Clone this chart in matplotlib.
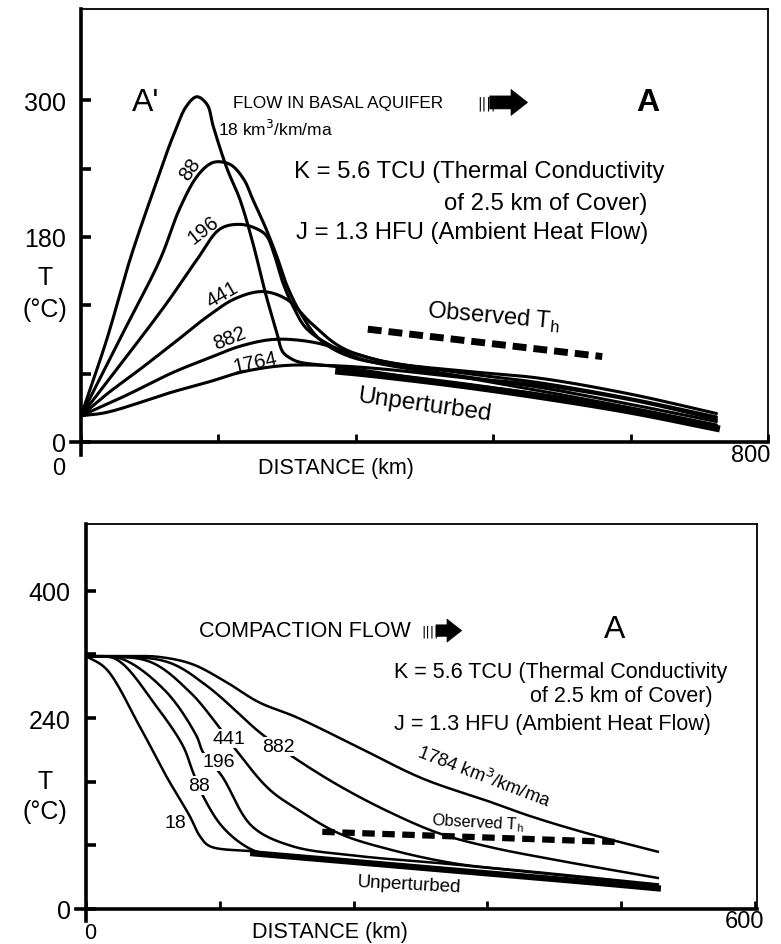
import numpy as np
import matplotlib
matplotlib.use("Agg")
import matplotlib.pyplot as plt

plt.rcParams["font.family"] = ["Liberation Sans", "DejaVu Sans"]

# ---- top panel: flow in basal aquifer (distance km, T degC)
top_flows = ["18", "88", "196", "441", "882", "1764"]
top_x = {
    "18":   [0, 30, 57, 85, 107, 123, 135, 147, 154, 170, 185, 200, 215, 228, 235, 245, 255, 300, 400, 534, 640, 740],
    "88":   [0, 45, 92, 115, 135, 150, 160, 175, 190, 200, 215, 228, 240, 255, 278, 313, 400, 534, 640, 740],
    "196":  [0, 50, 100, 135, 162, 185, 205, 216, 224, 235, 247, 262, 290, 330, 450, 534, 640, 740],
    "441":  [0, 30, 69, 110, 147, 180, 212, 240, 267, 301, 340, 450, 534, 640, 740],
    "882":  [0, 50, 107, 150, 185, 224, 267, 313, 356, 450, 534, 640, 740],
    "1764": [0, 30, 107, 150, 185, 235, 293, 352, 450, 534, 640, 740],
}
top_T = {
    "18":   [23, 90, 160, 222, 268, 295, 303, 296, 277, 240, 213, 175, 130, 96, 79, 73, 70, 66, 55, 42, 28, 13],
    "88":   [23, 90, 160, 205, 233, 244, 246, 243, 230, 213, 188, 163, 137, 114, 90, 75, 63, 45, 30, 15],
    "196":  [23, 72, 122, 160, 187, 191, 187, 181, 167, 140, 119, 100, 85, 72, 57, 48, 33, 18],
    "441":  [23, 42, 64, 88, 110, 126, 132, 125, 105, 84, 73, 60, 52, 38, 22],
    "882":  [23, 40, 61, 74, 84, 90, 88, 79, 70, 62, 56, 42, 25],
    "1764": [23, 26, 44, 53, 61, 67, 67, 64, 56, 50, 37, 20],
}
top_unpert_x = [300, 328, 430, 534, 640, 740]
top_unpert_T = [62, 60, 51, 40, 27, 12]
top_obs_x = [334, 607]
top_obs_T = [99, 75]

# ---- bottom panel: compaction flow
bot_flows = ["18", "88", "196", "441", "882", "1784"]
bot_x = {
    "18":   [0, 18, 48, 72, 93, 102, 111, 153, 189, 260, 350, 450, 513],
    "88":   [0, 27, 63, 87, 96, 105, 122, 143, 161, 250, 350, 450, 513],
    "196":  [0, 33, 72, 99, 105, 122, 149, 185, 242, 330, 450, 513],
    "441":  [0, 57, 93, 116, 134, 164, 189, 227, 272, 332, 400, 513],
    "882":  [0, 72, 108, 155, 173, 188, 227, 272, 317, 362, 420, 513],
    "1784": [0, 40, 65, 95, 125, 155, 189, 242, 302, 362, 398, 450, 513],
}
bot_T = {
    "18":   [318, 302, 230, 167, 117, 92, 79, 72, 64, 56, 46, 34, 26],
    "88":   [318, 314, 255, 205, 172, 142, 104, 79, 69, 58, 47, 35, 27],
    "196":  [318, 314, 273, 218, 197, 167, 104, 79, 67, 56, 39, 30],
    "441":  [318, 311, 273, 235, 201, 151, 126, 95, 75, 57, 47, 31],
    "882":  [318, 311, 281, 223, 204, 189, 155, 122, 95, 78, 62, 39],
    "1784": [318, 318, 317, 308, 286, 260, 241, 205, 164, 135, 117, 95, 72],
}
bot_unpert_x = [150, 250, 350, 450, 513]
bot_unpert_T = [70, 58, 46, 34, 26]
bot_obs_x = [212, 481]
bot_obs_T = [97, 84]

fig = plt.figure(figsize=(7.81, 9.45), dpi=100)
W, H = 781, 945


def smooth(x, y, sx, sy, n=16):
    # centripetal Catmull-Rom through the read points (drawing only)
    p = np.column_stack([np.asarray(x, float) * sx, np.asarray(y, float) * sy])
    p = np.vstack([2 * p[0] - p[1], p, 2 * p[-1] - p[-2]])
    out = [p[1]]
    for i in range(1, len(p) - 2):
        P0, P1, P2, P3 = p[i - 1], p[i], p[i + 1], p[i + 2]
        t0 = 0.0
        t1 = t0 + max(np.linalg.norm(P1 - P0), 1e-6) ** 0.5
        t2 = t1 + max(np.linalg.norm(P2 - P1), 1e-6) ** 0.5
        t3 = t2 + max(np.linalg.norm(P3 - P2), 1e-6) ** 0.5
        t = np.linspace(t1, t2, n)[1:, None]
        A1 = (t1 - t) / (t1 - t0) * P0 + (t - t0) / (t1 - t0) * P1
        A2 = (t2 - t) / (t2 - t1) * P1 + (t - t1) / (t2 - t1) * P2
        A3 = (t3 - t) / (t3 - t2) * P2 + (t - t2) / (t3 - t2) * P3
        B1 = (t2 - t) / (t2 - t0) * A1 + (t - t0) / (t2 - t0) * A2
        B2 = (t3 - t) / (t3 - t1) * A2 + (t - t1) / (t3 - t1) * A3
        C = (t2 - t) / (t2 - t1) * B1 + (t - t1) / (t2 - t1) * B2
        out.extend(C)
    out = np.array(out)
    return out[:, 0] / sx, out[:, 1] / sy


def frame(ax, xmax, ymax, yticks, ylabels, xticks):
    ax.set_xlim(0, xmax)
    ax.set_ylim(0, ymax)
    for s in ["left", "bottom"]:
        ax.spines[s].set_linewidth(2.6)
    for s in ["top", "right"]:
        ax.spines[s].set_linewidth(1.3)
    ax.set_yticks(yticks)
    ax.set_yticklabels(ylabels, fontsize=18)
    ax.set_xticks(xticks)
    ax.set_xticklabels([])
    ax.tick_params(axis="y", direction="in", length=7, width=2.6, pad=11)
    ax.tick_params(axis="x", direction="in", length=6, width=2.0)
    # axis lines run a little past the corner
    ax.plot([0, 0], [0, -0.03], transform=ax.transAxes, color="k", lw=2.6, clip_on=False)
    ax.plot([-0.015, 0], [0, 0], transform=ax.transAxes, color="k", lw=2.6, clip_on=False)


def flow_arrow(ax, x0, x1, y, size):
    ax.annotate("", xy=(x1, y), xytext=(x0, y),
                arrowprops=dict(arrowstyle="simple,head_length=0.7,head_width=1.1,tail_width=0.55",
                                fc="k", ec="k", lw=0.5, shrinkA=0, shrinkB=0,
                                mutation_scale=size))


# ================= top =================
ax1 = fig.add_axes([81 / W, (H - 443) / H, (768 - 81) / W, (443 - 10) / H])
frame(ax1, 800, 380, [0, 60, 120, 180, 240, 300], ["0", "", "", "180", "", "300"],
      [0, 160, 320, 480, 640, 800])

for k in top_flows:
    xs, ys = smooth(top_x[k], top_T[k], 0.859, 1.14)
    ax1.plot(xs, ys, color="k", lw=2.2, solid_capstyle="round", solid_joinstyle="round")
xs, ys = smooth(top_unpert_x, top_unpert_T, 0.859, 1.14)
ax1.plot(xs, ys, color="k", lw=5.0)
ax1.plot(top_obs_x, top_obs_T, color="k", lw=5.0, linestyle=(0, (2.0, 1.0)))

ax1.text(75, 298, "A'", fontsize=23, ha="center", va="center")
ax1.text(660, 298, "A", fontsize=23, ha="center", va="center", fontweight="bold")
ax1.text(177, 298, "FLOW IN BASAL AQUIFER", fontsize=12.3, ha="left", va="center")
ax1.text(461, 298, "||||", fontsize=10, ha="left", va="center", family="DejaVu Sans")
flow_arrow(ax1, 476, 520, 298, 17)
ax1.text(160, 276, "18 km$^3$/km/ma", fontsize=12.5, ha="left", va="center")
ax1.text(248, 238, "K = 5.6 TCU (Thermal Conductivity", fontsize=17.2, ha="left", va="center")
ax1.text(660, 210, "of 2.5 km of Cover)", fontsize=17.2, ha="right", va="center")
ax1.text(250, 184, "J = 1.3 HFU (Ambient Heat Flow)", fontsize=17.2, ha="left", va="center")
ax1.text(481, 110, "Observed T$_\\mathregular{h}$", fontsize=17, ha="center", va="center", rotation=-5)
ax1.text(400, 33, "Unperturbed", fontsize=17.5, ha="center", va="center", rotation=-8)

top_lab = {"88": (127, 240, 55), "196": (142, 187, 38), "441": (164, 130, 30),
           "882": (173, 92, 22), "1764": (203, 70, 12)}
for k, (x, y, r) in top_lab.items():
    ax1.text(x, y, k, fontsize=14.5, ha="center", va="center", rotation=r)

ax1.text(-0.033, -0.06, "0", transform=ax1.transAxes, fontsize=17, ha="center", va="center")
ax1.text(0.975, -0.03, "800", transform=ax1.transAxes, fontsize=17, ha="center", va="center")
ax1.text(0.371, -0.06, "DISTANCE (km)", transform=ax1.transAxes, fontsize=15.5, ha="center", va="center")
fig.text(45 / W, 1 - 278 / H, "T", fontsize=18, ha="center", va="center")
fig.text(45 / W, 1 - 310 / H, "(\u00b0C)", fontsize=18, ha="center", va="center")

# ================= bottom =================
ax2 = fig.add_axes([86 / W, (H - 910) / H, (757 - 86) / W, (910 - 525) / H])
frame(ax2, 602, 484, [0, 80, 160, 240, 320, 400], ["0", "", "", "240", "", "400"],
      [0, 120, 240, 360, 480, 600])

for k in bot_flows:
    xs, ys = smooth(bot_x[k], bot_T[k], 1.111, 0.795)
    ax2.plot(xs, ys, color="k", lw=1.8)
xs, ys = smooth(bot_unpert_x, bot_unpert_T, 1.111, 0.795)
ax2.plot(xs, ys, color="k", lw=4.5)
ax2.plot(bot_obs_x, bot_obs_T, color="k", lw=4.5, linestyle=(0, (2.0, 1.2)))

ax2.text(101, 350, "COMPACTION FLOW", fontsize=15.5, ha="left", va="center")
ax2.text(301, 350, "||||", fontsize=9.5, ha="left", va="center", family="DejaVu Sans")
flow_arrow(ax2, 314, 337, 350, 15)
ax2.text(474, 352, "A", fontsize=23, ha="center", va="center")
ax2.text(276, 299, "K = 5.6 TCU (Thermal Conductivity", fontsize=15.5, ha="left", va="center")
ax2.text(562, 268, "of 2.5 km of Cover)", fontsize=15.5, ha="right", va="center")
ax2.text(276, 233, "J = 1.3 HFU (Ambient Heat Flow)", fontsize=15.5, ha="left", va="center")
ax2.text(357, 168, "1784 km$^3$/km/ma", fontsize=13.2, ha="center", va="center", rotation=-21)
ax2.text(351, 109, "Observed T$_\\mathregular{h}$", fontsize=11.7, ha="center", va="center", rotation=-3)
ax2.text(290, 31, "Unperturbed", fontsize=13.5, ha="center", va="center", rotation=-3)

bot_lab = {"441": (128, 214), "882": (173, 204), "196": (119, 185), "88": (101, 155)}
for k, (x, y) in bot_lab.items():
    ax2.text(x, y, k, fontsize=14, ha="center", va="center",
             bbox=dict(facecolor="white", edgecolor="none", pad=0.5))
ax2.text(80, 109, "18", fontsize=14, ha="center", va="center")

ax2.text(0.006, -0.062, "0", transform=ax2.transAxes, fontsize=15.5, ha="center", va="center")
ax2.text(0.982, -0.031, "600", transform=ax2.transAxes, fontsize=17, ha="center", va="center")
ax2.text(0.364, -0.058, "DISTANCE (km)", transform=ax2.transAxes, fontsize=15.5, ha="center", va="center")
fig.text(45 / W, 1 - 782 / H, "T", fontsize=18, ha="center", va="center")
fig.text(45 / W, 1 - 812 / H, "(\u00b0C)", fontsize=18, ha="center", va="center")

fig.savefig("out.png", dpi=100)
